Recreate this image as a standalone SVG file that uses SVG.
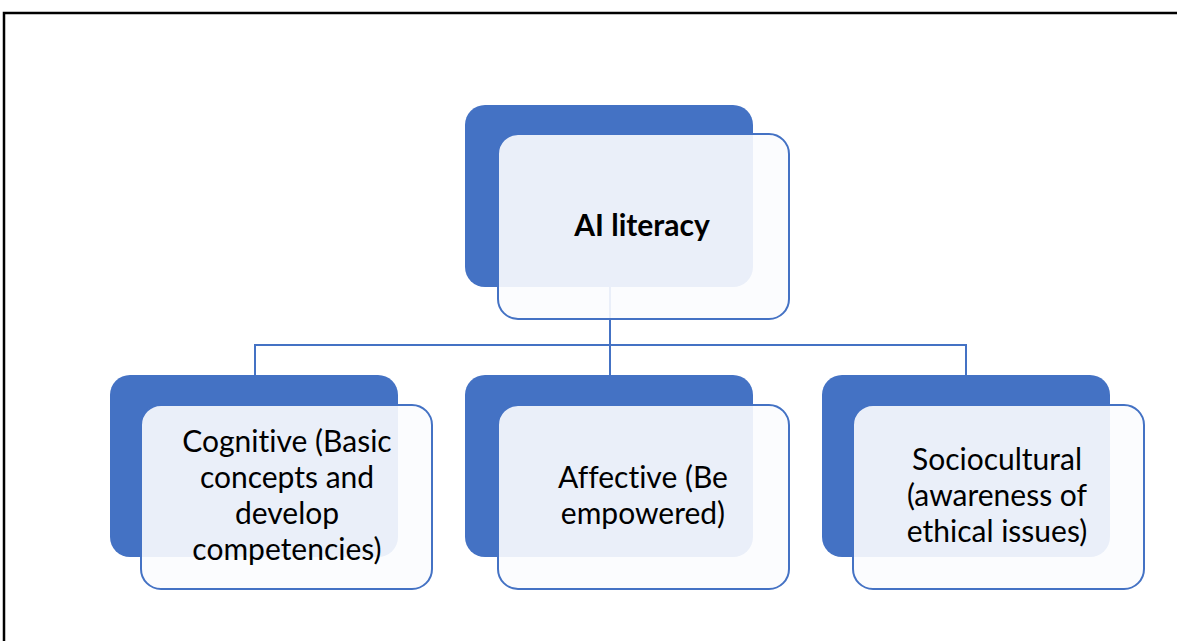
<svg xmlns="http://www.w3.org/2000/svg" width="1177" height="641" viewBox="0 0 1177 641">
<style>
.back{fill:#4472C4;}
.front{fill:#FBFCFE;fill-opacity:0.91;stroke:#4472C4;stroke-width:2;}
.conn{fill:none;stroke:#4472C4;stroke-width:2;}
.lbl{font-family:Lato,"Liberation Sans",sans-serif;font-size:30px;fill:#000;text-anchor:middle;font-variant-ligatures:none;}
.bold{font-weight:bold;}
</style>
<rect width="1177" height="641" fill="#fff"/>
<path d="M4,641 V13 H1177" fill="none" stroke="#000" stroke-width="2.5"/>
<g id="connectors">
<path class="conn" d="M610,287 V345 M255,375 V345 H966 V375 M610,345 V375"/>
</g>
<g id="ai-literacy">
<rect class="back" x="465" y="105" width="288" height="182" rx="20"/>
<rect class="front" x="498" y="134" width="291" height="185" rx="20"/>
<text class="lbl bold" x="642" y="236">AI literacy</text>
</g>
<g id="cognitive">
<rect class="back" x="110" y="375" width="288" height="182" rx="20"/>
<rect class="front" x="141" y="405" width="291" height="184" rx="20"/>
<text class="lbl" x="287" y="452">Cognitive (Basic</text>
<text class="lbl" x="287" y="488">concepts and</text>
<text class="lbl" x="287" y="524">develop</text>
<text class="lbl" x="287" y="560">competencies)</text>
</g>
<g id="affective">
<rect class="back" x="465" y="375" width="288" height="182" rx="20"/>
<rect class="front" x="498" y="405" width="291" height="184" rx="20"/>
<text class="lbl" x="643" y="488">Affective (Be</text>
<text class="lbl" x="643" y="524">empowered)</text>
</g>
<g id="sociocultural">
<rect class="back" x="822" y="375" width="288" height="182" rx="20"/>
<rect class="front" x="853" y="405" width="291" height="184" rx="20"/>
<text class="lbl" x="997" y="470">Sociocultural</text>
<text class="lbl" x="997" y="506">(awareness of</text>
<text class="lbl" x="997" y="542">ethical issues)</text>
</g>
</svg>
